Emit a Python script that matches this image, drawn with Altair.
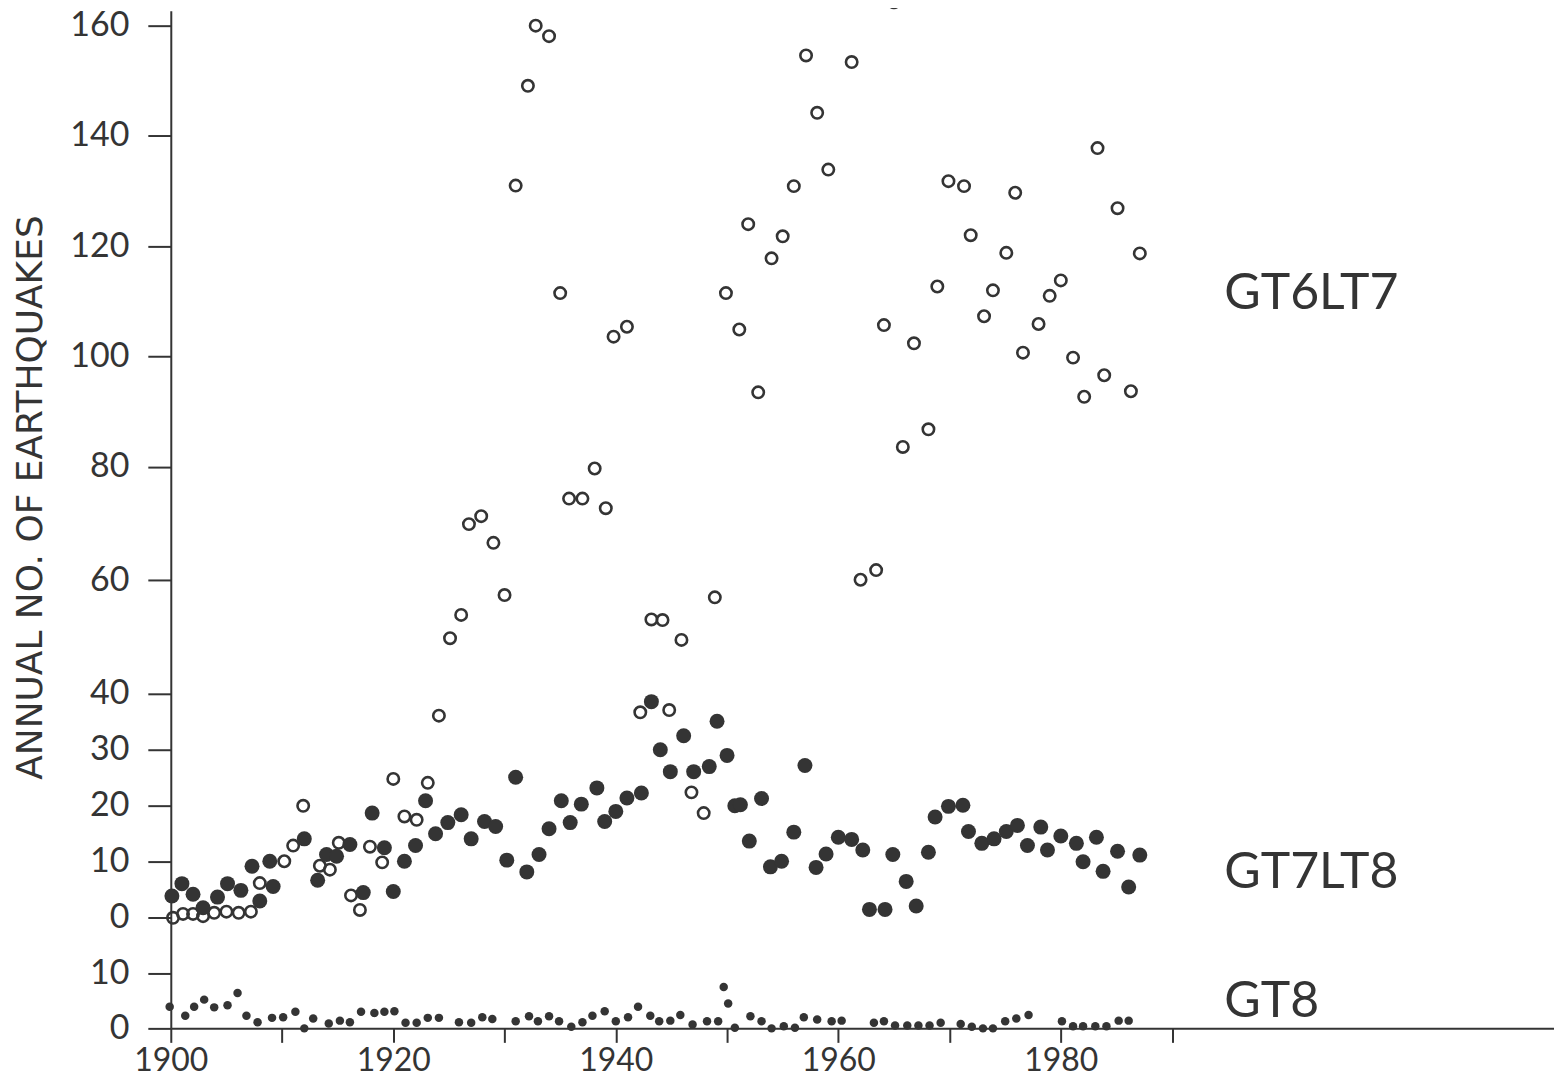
import altair as alt
import pandas as pd

# ---------------- data ----------------
# GT6LT7 : open circles
GT6LT7_YEAR = [1900.2, 1901.1, 1902.0, 1902.9, 1903.9, 1905.0, 1906.1, 1907.2, 1908.0,
               1910.2, 1911.0, 1911.9,
               1913.4, 1914.3, 1915.1, 1916.2, 1917.0, 1917.9, 1919.0, 1920.0, 1921.0, 1922.1, 1923.1, 1924.1,
               1925.1, 1926.1, 1926.8, 1927.9, 1929.0, 1930.0,
               1931.0, 1932.1, 1932.8, 1934.0, 1935.0, 1935.8, 1937.0, 1938.1, 1939.1, 1939.8, 1941.0,
               1942.2, 1943.2, 1944.2, 1944.8, 1945.9, 1946.8, 1947.9, 1948.9, 1949.9,
               1951.1, 1951.9, 1952.8, 1954.0, 1955.0, 1956.0, 1957.1, 1958.1, 1959.1,
               1960.6, 1961.2, 1962.0, 1963.4, 1964.1, 1965.0, 1965.8, 1966.8, 1968.1, 1968.9, 1969.9,
               1971.3, 1971.9, 1973.1, 1973.9, 1975.1, 1975.9, 1976.6, 1978.0, 1979.0, 1980.0,
               1981.1, 1982.1, 1983.3, 1983.9, 1985.1, 1986.3, 1987.1]
GT6LT7_COUNT = [0, 0.7, 0.7, 0.3, 0.9, 1.1, 0.9, 1.1, 6.2,
                10.1, 12.9, 20.0,
                9.3, 8.6, 13.4, 4.0, 1.4, 12.7, 9.9, 24.8, 18.1, 17.5, 24.1, 36.1,
                49.8, 53.9, 69.9, 71.3, 66.6, 57.4,
                131.0, 149.1, 160.0, 158.1, 111.5, 74.4, 74.4, 79.7, 72.7, 103.6, 105.4,
                36.7, 53.1, 53.0, 37.1, 49.5, 22.4, 18.7, 57.0, 111.5,
                104.9, 124.0, 93.5, 117.8, 121.8, 130.9, 154.6, 144.2, 133.9,
                164.7, 153.4, 60.1, 61.8, 105.7, 164.2, 83.6, 102.4, 86.8, 112.7, 131.8,
                130.9, 122.0, 107.3, 112.0, 118.8, 129.7, 100.7, 105.9, 111.0, 113.8,
                99.8, 92.7, 137.8, 96.6, 126.9, 93.7, 118.7]

# GT7LT8 : filled circles
GT7LT8_YEAR = [1900.1, 1901.0, 1902.0, 1902.9, 1904.2, 1905.1, 1906.3, 1907.3, 1908.0, 1908.9, 1909.2,
               1912.0, 1913.2, 1914.0, 1914.9, 1916.1, 1917.3, 1918.1, 1919.2, 1920.0, 1921.0, 1922.0,
               1922.9, 1923.8, 1924.9, 1926.1, 1927.0, 1928.2, 1929.2,
               1930.2, 1931.0, 1932.0, 1933.1, 1934.0, 1935.1, 1935.9, 1936.9, 1938.3, 1939.0, 1940.0,
               1941.0, 1942.3,
               1943.2, 1944.0, 1944.9, 1946.1, 1947.0, 1948.4, 1949.1, 1950.0, 1950.7, 1951.2, 1952.0,
               1953.1, 1953.9, 1954.9, 1956.0, 1957.0, 1958.0, 1958.9,
               1960.0, 1961.2, 1962.2, 1962.8, 1964.2, 1964.9, 1966.1, 1967.0, 1968.1, 1968.7, 1969.9,
               1971.2, 1971.7, 1972.9, 1974.0, 1975.1, 1976.1, 1977.0, 1978.2, 1978.8, 1980.0,
               1981.4, 1982.0, 1983.2, 1983.8, 1985.1, 1986.1, 1987.1]
GT7LT8_COUNT = [3.9, 6.1, 4.2, 1.8, 3.7, 6.1, 4.9, 9.2, 3.0, 10.1, 5.6,
                14.1, 6.7, 11.3, 11.0, 13.1, 4.5, 18.7, 12.5, 4.7, 10.1, 12.9,
                20.9, 15.0, 17.0, 18.4, 14.1, 17.2, 16.3,
                10.3, 25.1, 8.2, 11.3, 15.9, 20.9, 17.0, 20.3, 23.2, 17.2, 19.0,
                21.4, 22.3,
                38.6, 30.0, 26.1, 32.5, 26.1, 27.0, 35.1, 29.0, 20.0, 20.2, 13.7,
                21.3, 9.1, 10.1, 15.3, 27.2, 9.0, 11.4,
                14.4, 14.0, 12.1, 1.5, 1.5, 11.3, 6.5, 2.1, 11.7, 18.0, 19.9,
                20.1, 15.4, 13.3, 14.1, 15.4, 16.5, 12.9, 16.2, 12.1, 14.6,
                13.3, 10.0, 14.4, 8.3, 11.9, 5.5, 11.2]

# GT8 : small dots (own panel below the main zero line)
GT8_YEAR = [1899.9, 1901.3, 1902.1, 1903.0, 1903.9, 1905.1, 1906.0, 1906.8, 1907.8,
            1909.1, 1910.1, 1911.2, 1912.0, 1912.8,
            1914.2, 1915.2, 1916.1, 1917.1, 1918.3, 1919.2, 1920.1, 1921.1, 1922.1, 1923.1, 1924.1,
            1925.9, 1927.0, 1928.0, 1928.9,
            1931.0, 1932.2, 1933.0, 1934.0, 1934.9, 1936.0, 1937.0, 1937.9, 1939.0, 1940.0,
            1941.1, 1942.0, 1943.1, 1943.9, 1944.9, 1945.8, 1946.9, 1948.2, 1949.2, 1949.7, 1950.1, 1950.7,
            1952.1, 1953.1, 1954.0, 1955.1, 1956.1, 1956.9, 1958.1, 1959.4, 1960.3,
            1963.2, 1964.1, 1965.1, 1966.2, 1967.2, 1968.2, 1969.2,
            1971.0, 1972.0, 1973.0, 1973.9, 1975.0, 1976.0, 1977.1,
            1980.1, 1981.1, 1982.0, 1983.1, 1984.1, 1985.2, 1986.1]
GT8_COUNT = [3.9, 2.3, 3.9, 5.2, 3.8, 4.2, 6.4, 2.3, 1.1,
             1.9, 2.0, 3.0, 0, 1.8,
             0.9, 1.4, 1.1, 3.0, 2.8, 3.0, 3.1, 1.0, 1.0, 1.9, 1.9,
             1.1, 1.0, 2.0, 1.7,
             1.3, 2.2, 1.3, 2.2, 1.3, 0.3, 1.1, 2.3, 3.1, 1.3,
             2.0, 3.9, 2.3, 1.3, 1.4, 2.4, 0.7, 1.3, 1.3, 7.5, 4.5, 0.1,
             2.2, 1.3, 0, 0.4, 0.1, 2.0, 1.6, 1.3, 1.4,
             1.0, 1.3, 0.5, 0.5, 0.5, 0.5, 1.0,
             0.8, 0.3, 0, 0, 1.3, 1.8, 2.4,
             1.3, 0.4, 0.4, 0.4, 0.4, 1.4, 1.4]

# series labels at the right
LABEL_TEXT = ["GT6LT7", "GT7LT8", "GT8"]
LABEL_YEAR = [1994.7, 1994.7, 1994.7]
LABEL_COUNT = [108.7, 5.4, 2.0]

# axis ticks
X_TICKS = [1900, 1910, 1920, 1930, 1940, 1950, 1960, 1970, 1980, 1990]
Y_TICKS = [-20, -10, 0, 10, 20, 30, 40, 60, 80, 100, 120, 140, 160]

# ---------------- layout / style ----------------
GT8_OFFSET = 20          # GT8 panel sits 20 units below the main zero line
INK = "#343434"
NUM_FONT = "Lato"
TITLE_FONT = "DejaVu Sans"
W, H = 1385, 1019
X_DOMAIN = [1900, 2024.33]
Y_DOMAIN = [-20, 0, 40, 80, 160, 162.7]
Y_RANGE = [1019, 908.3, 684, 456.7, 15, 0]

assert len(GT6LT7_YEAR) == len(GT6LT7_COUNT)
assert len(GT7LT8_YEAR) == len(GT7LT8_COUNT)
assert len(GT8_YEAR) == len(GT8_COUNT)

df = pd.concat([
    pd.DataFrame({"year": GT6LT7_YEAR, "count": GT6LT7_COUNT, "series": "GT6LT7"}),
    pd.DataFrame({"year": GT7LT8_YEAR, "count": GT7LT8_COUNT, "series": "GT7LT8"}),
    pd.DataFrame({"year": GT8_YEAR, "count": GT8_COUNT, "series": "GT8"}),
], ignore_index=True)
lab = pd.DataFrame({"label": LABEL_TEXT, "year": LABEL_YEAR, "count": LABEL_COUNT, "series": LABEL_TEXT})

plot_y_expr = f"datum.series == 'GT8' ? datum.count - {GT8_OFFSET} : datum.count"

x_enc = alt.X(
    "year:Q",
    scale=alt.Scale(domain=X_DOMAIN, nice=False, zero=False),
    axis=alt.Axis(values=X_TICKS,
                  labelExpr="datum.value % 20 == 0 ? '' + datum.value : ''",
                  tickSize=14, labelPadding=3, labelFontSize=32),
    title=None,
)
y_enc = alt.Y(
    "plot_y:Q",
    scale=alt.Scale(domain=Y_DOMAIN, range=Y_RANGE, nice=False, zero=False),
    axis=alt.Axis(values=Y_TICKS,
                  labelExpr=f"'' + (datum.value < 0 ? datum.value + {GT8_OFFSET} : datum.value)",
                  tickSize=23, labelPadding=19, labelFontSize=34,
                  titleFont=TITLE_FONT, titleFontSize=36, titleFontWeight="normal",
                  titleColor=INK, titleX=-140, titleY=487,
                  titleAlign="center", titleBaseline="middle", titleAngle=270),
    title="ANNUAL NO. OF EARTHQUAKES",
)

base = alt.Chart(df).transform_calculate(plot_y=plot_y_expr)

open_pts = base.transform_filter("datum.series == 'GT6LT7'").mark_point(
    shape="circle", filled=False, size=130, strokeWidth=2.6, color=INK, opacity=1
).encode(x=x_enc, y=y_enc)

filled_pts = base.transform_filter("datum.series == 'GT7LT8'").mark_circle(
    size=225, color=INK, opacity=1
).encode(x=x_enc, y=y_enc)

small_pts = base.transform_filter("datum.series == 'GT8'").mark_circle(
    size=72, color=INK, opacity=1
).encode(x=x_enc, y=y_enc)

labels = alt.Chart(lab).transform_calculate(plot_y=plot_y_expr).mark_text(
    align="left", baseline="alphabetic", font=NUM_FONT, fontSize=50, color=INK
).encode(x=x_enc, y=y_enc, text="label:N")

chart = alt.layer(open_pts, filled_pts, small_pts, labels).properties(
    width=W, height=H,
    autosize=alt.AutoSizeParams(type="none"),
    padding={"left": 163, "top": 2, "right": 0, "bottom": 50},
).configure_view(stroke=None).configure_axis(
    grid=False, domainColor=INK, domainWidth=2, tickColor=INK, tickWidth=2,
    labelColor=INK, labelFont=NUM_FONT,
    labelOverlap=False, labelFlush=False,
)

chart.save("out.html", embed_options={"renderer": "svg", "actions": False})
